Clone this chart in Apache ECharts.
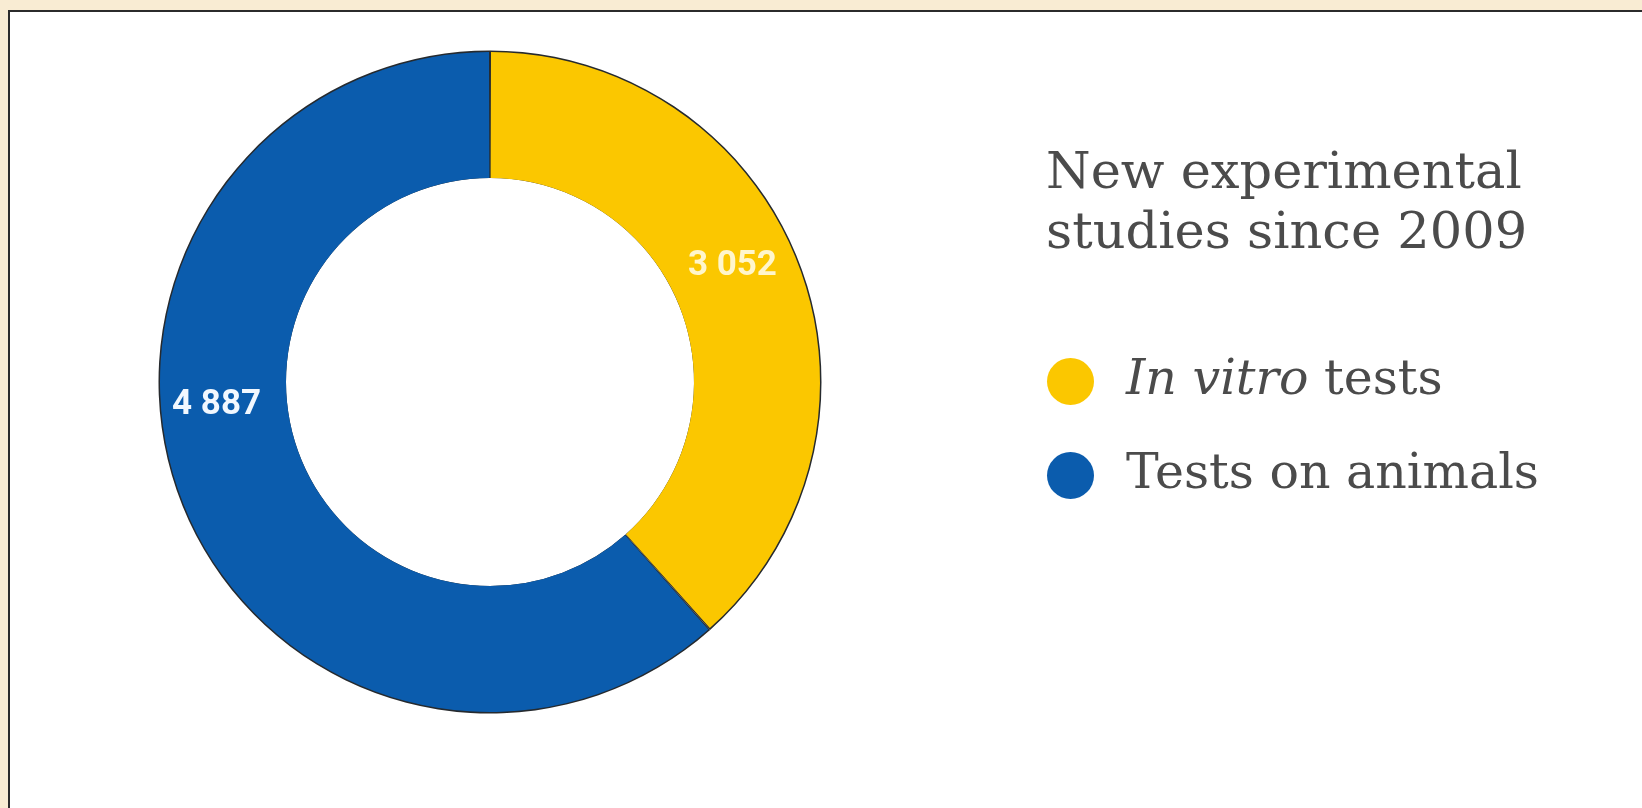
<!DOCTYPE html>
<html>
<head>
<meta charset="utf-8">
<script src="https://cdn.jsdelivr.net/npm/echarts@6/dist/echarts.min.js"></script>
<style>
  html, body { margin: 0; padding: 0; background: #f9ecd3; overflow: hidden; }
  #frame {
    position: absolute; left: 8px; top: 10px; right: 0; bottom: 0;
    border-top: 2px solid #2b2b2b; border-left: 2px solid #2b2b2b;
    background: #fff;
  }
  #chart { width: 1632px; height: 796px; }
</style>
</head>
<body>
<div id="frame"><div id="chart"></div></div>
<script>
const categories = ["In vitro tests", "Tests on animals"];
const studies = [3052, 4887];
const colors = ["#fbc700", "#0b5cad"];
const labelColors = ["#fff6cc", "#f2f8ff"];
const titleText = "New experimental\nstudies since 2009";

// where the reference puts the numbers, relative to the default inside spot
const labelShift = [[-10, -20], [-21, -73]];

const fmt = (v) => String(v).replace(/\B(?=(\d{3})+(?!\d))/g, " ");

const chart = echarts.init(document.getElementById("chart"));

const mainData = categories.map((name, i) => ({
    name: name,
    value: studies[i],
    itemStyle: { color: colors[i] },
    label: { color: labelColors[i] }
}));

const outlineData = categories.map((name, i) => ({
    name: "_" + name,
    value: studies[i]
}));

chart.setOption({
    animation: false,
    title: {
        text: titleText,
        left: 1031,
        top: 128,
        textStyle: {
            fontFamily: "DejaVu Serif",
            fontWeight: "normal",
            fontSize: 51,
            lineHeight: 60,
            color: "#4b4b4b"
        }
    },
    legend: {
        orient: "vertical",
        left: 1032,
        top: 340,
        icon: "circle",
        itemWidth: 47,
        itemHeight: 47,
        itemGap: 45,
        selectedMode: false,
        data: categories.map((name, i) => ({ name: name, itemStyle: { color: colors[i] } })),
        formatter: (name) => name === "In vitro tests" ? "{i|In vitro} tests" : name,
        textStyle: {
            fontFamily: "DejaVu Serif",
            fontSize: 49,
            color: "#4b4b4b",
            padding: [0, 0, 0, 27],
            rich: {
                i: { fontFamily: "DejaVu Serif", fontStyle: "italic", fontSize: 49, color: "#4b4b4b" }
            }
        }
    },
    series: [
        {
            type: "pie",
            name: "studies",
            z: 3,
            center: [480, 370],
            radius: [204, 330],
            startAngle: 90,
            clockwise: true,
            padAngle: 0.35,
            silent: true,
            data: mainData,
            itemStyle: { borderWidth: 0 },
            label: {
                show: true,
                position: "inside",
                rotate: 0,
                fontFamily: "Roboto",
                fontWeight: "bold",
                fontSize: 35,
                formatter: (p) => fmt(p.value)
            },
            labelLine: { show: false },
            labelLayout: (p) => ({ dx: labelShift[p.dataIndex][0], dy: labelShift[p.dataIndex][1] })
        },
        {
            // thin dark outline behind the ring
            type: "pie",
            name: "outline",
            z: 2,
            center: [480, 370],
            radius: [204, 331.5],
            startAngle: 90,
            clockwise: true,
            silent: true,
            data: outlineData,
            itemStyle: { color: "#262a2e", borderWidth: 0 },
            label: { show: false },
            labelLine: { show: false }
        }
    ]
});
</script>
</body>
</html>
